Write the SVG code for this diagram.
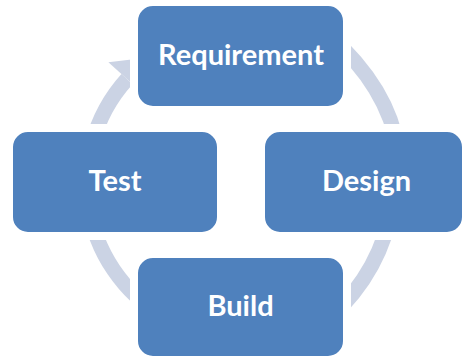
<svg xmlns="http://www.w3.org/2000/svg" width="464" height="357" viewBox="0 0 464 357">
  <style>
    .arc { fill: none; stroke: #CBD3E4; stroke-width: 15; stroke-linecap: butt; }
    .head { fill: #CBD3E4; stroke: none; }
    .box { fill: #4F81BD; stroke: #FFFFFF; stroke-width: 8; }
    .lbl { fill: #FFFFFF; font-family: Lato, "Open Sans", "Liberation Sans", sans-serif; font-weight: bold; font-size: 29px; text-anchor: middle; }
  </style>
  <rect x="0" y="0" width="464" height="357" fill="#FFFFFF"/>
  <g id="connectors">
    <path class="arc" d="M328,34 Q389,88 398,150"/>
    <path class="arc" d="M392,205 Q382,270 330,318"/>
    <path class="arc" d="M164.5,317.2 A155,155 0 0 1 88.5,204.6"/>
    <path class="arc" d="M92.3,142.9 A155,155 0 0 1 127,79.1"/>
    <polygon class="head" points="108.4,62.2 146,57.8 145.5,95.8"/>
  </g>
  <g id="node-requirement">
    <rect class="box" x="134" y="2" width="213" height="108" rx="19" ry="19"/>
    <text class="lbl" x="241" y="65">Requirement</text>
  </g>
  <g id="node-design">
    <rect class="box" x="261" y="128" width="205" height="108" rx="19" ry="19"/>
    <text class="lbl" x="366.5" y="191">Design</text>
  </g>
  <g id="node-build">
    <rect class="box" x="134" y="254" width="213" height="106" rx="19" ry="19"/>
    <text class="lbl" x="240.5" y="316">Build</text>
  </g>
  <g id="node-test">
    <rect class="box" x="9" y="128" width="212" height="108" rx="19" ry="19"/>
    <text class="lbl" x="115" y="191">Test</text>
  </g>
</svg>
